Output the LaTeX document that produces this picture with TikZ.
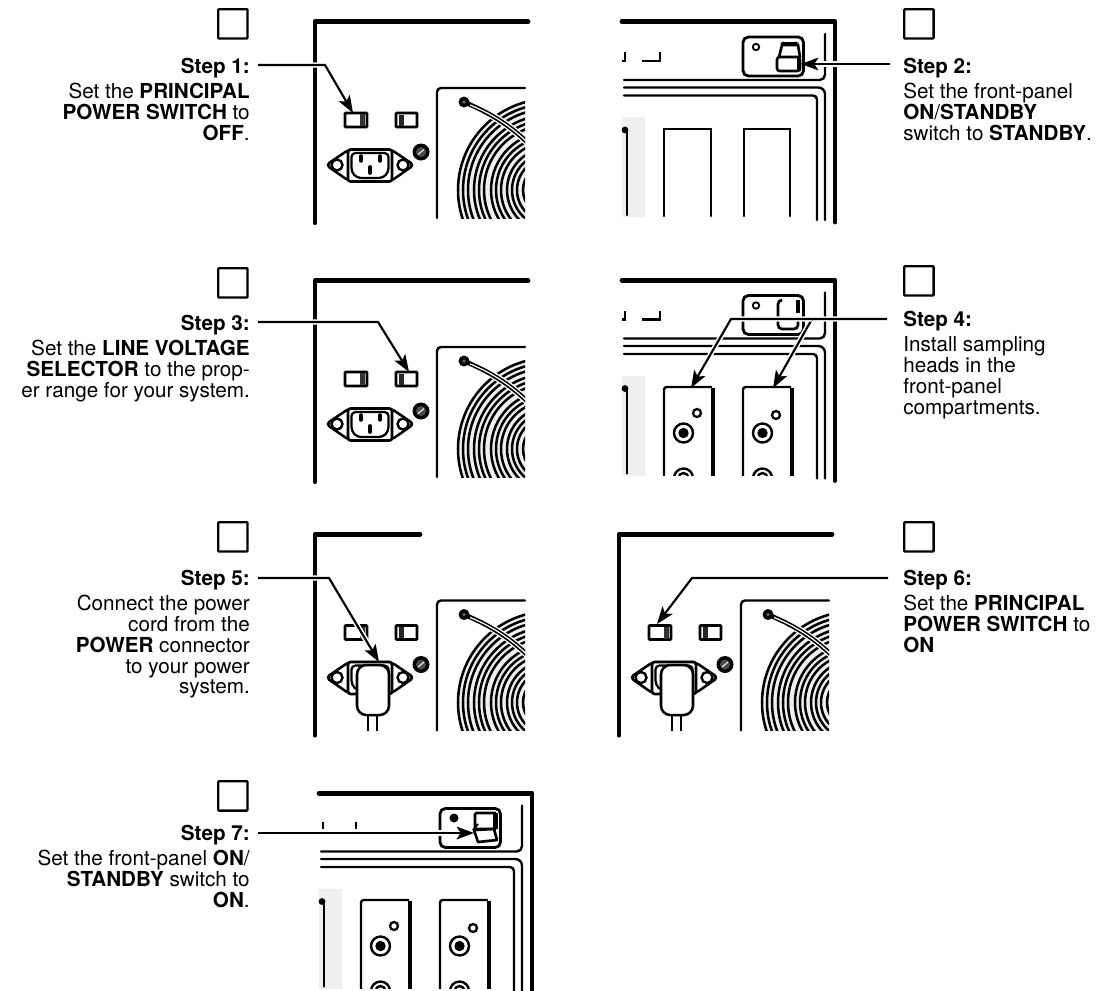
\documentclass[tikz,border=0pt]{standalone}
\usepackage{fontspec}
\setmainfont{TeX Gyre Heros}
\usetikzlibrary{arrows.meta}
\definecolor{fangrey}{HTML}{EFEFEF}
\tikzset{
  x=0.75pt,y=-0.75pt,
  thickframe/.style={line width=3.6pt,line cap=round,line join=round},
  thinline/.style={line width=1.8pt,line cap=round},
  checkbox/.style={draw,line width=1.8pt,rounded corners=0.6pt,minimum width=22pt,minimum height=22pt,inner sep=0pt,anchor=north west},
  stepR/.style={anchor=north east,align=right,inner sep=0pt,font=\fontsize{15.5}{15.6}\selectfont},
  stepL/.style={anchor=north west,align=left,inner sep=0pt,font=\fontsize{15.5}{15.6}\selectfont},
  leader/.style={line width=1.6pt,line join=miter,preaction={draw=white,line width=4pt,-,shorten >=12pt},-{Stealth[length=13pt,width=9.5pt,inset=3pt]}},
}
\newcommand{\RearSwitchL}{%
  \draw[line width=2pt,rounded corners=.5pt] (345,113) rectangle (367,127);
  \fill[black!80] (360,114) rectangle (364.5,126);
}
\newcommand{\RearPanel}[3]{%
\begin{scope}[shift={(#1,#2)}]
  \draw[thickframe] (#3,21.7) -- (315,21.7) -- (315,222.7);
  \RearSwitchL
  \draw[line width=2pt,rounded corners=.5pt] (396,113) rectangle (417,127);
  \fill[black!85] (399,114.5) rectangle (403.5,125.5);
  % power inlet
  \draw[line width=1.9pt,line join=round,fill=white,rounded corners=3pt] (326,165) -- (349,149.5) -- (391,149.5) -- (414,165) -- (391,181) -- (349,181) -- cycle;
  \draw[line width=1.8pt] (337,165) circle[radius=5.5];
  \draw[line width=1.8pt] (403,165) circle[radius=5.5];
  \draw[line width=2pt,rounded corners=2pt,fill=white] (348,149.5) rectangle (392,181.5);
  \draw[line width=1.7pt,rounded corners=3pt] (351.5,153) -- (388.5,153) -- (388.5,172) -- (383,178) -- (357,178) -- (351.5,172) -- cycle;
  \draw[line width=2.6pt,line cap=round] (361,156) -- (361,161);
  \draw[line width=2.6pt,line cap=round] (380,156) -- (380,161);
  \draw[line width=2.8pt,line cap=round] (370,167) -- (370,173);
  % screw
  \fill (421,152) circle[radius=8.5];
  \fill[black!70] (421,152) circle[radius=5];
  \draw[white,line width=.7pt] (418,154.5) -- (424,149.5);
  % fan
  \draw[line width=1.8pt,line cap=round,rounded corners=3pt] (437,218) -- (437,88) -- (525,88);
  \begin{scope}
    \clip (439,90) rectangle (525,218);
    \fill[fangrey] (549,190) circle[radius=91];
    \foreach \r in {91,86,81,75,70,65,58,53,48,42,37,32,26}
      \draw[line width=1.9pt] (549,190) circle[radius=\r];
    \draw[white,line width=5.4pt] (470,105) .. controls (490,113) and (510,125) .. (530,145);
    \draw[line width=3.4pt] (464,102) .. controls (490,113) and (510,125) .. (530,145);
    \draw[white,line width=.9pt] (470,105) .. controls (490,113) and (510,125) .. (530,145);
  \end{scope}
  \fill (464,102) circle[radius=5.5];
  \fill[black!60] (464,102) circle[radius=1.8];
\end{scope}}
\newcommand{\FrontPanel}[2]{%
\begin{scope}[shift={(#1,#2)}]
  \draw[thickframe] (622,21.7) -- (835,21.7) -- (835,222);
  \draw[line width=2.1pt,rounded corners=4pt] (743,37) rectangle (803.5,76);
  \draw[thinline,rounded corners=4pt] (624,80) -- (825,80) -- (825,34);
  \draw[thinline,rounded corners=5pt] (624,87.5) -- (825,87.5) -- (825,220);
  \draw[thinline,rounded corners=3pt] (624,95.5) -- (817,95.5) -- (817,220);
  \fill[fangrey] (622,117) rectangle (645,217);
  \draw[thinline] (627,130) -- (627,215);
  \fill (625,130) circle[radius=3.4];
\end{scope}}
\newcommand{\Ticks}[2]{%
\begin{scope}[shift={(#1,#2)}]
  \draw[line width=1.8pt] (622,61) -- (625,61) -- (625,52);
  \draw[line width=1.8pt] (642,61) -- (660,61) -- (660,52);
  \draw[line width=1.4pt] (756,47) circle[radius=3.2];
\end{scope}}
\newcommand{\Module}[5]{%
\begin{scope}[shift={(#1,#2)}]
  \begin{scope}
    \clip (#3-4,120) rectangle (#3+60,216.5);
    \draw[line width=1.8pt,rounded corners=2pt] (#3,220) -- (#3,128.5) -- (#3+48,128.5);
    \draw[line width=3.6pt] (#3+49,129) -- (#3+49,220);
    \draw[line width=1.7pt] (#4,#5) circle[radius=4];
    \draw[line width=1.8pt] (#3+19.5,174.5) circle[radius=9.5];
    \fill (#3+19.5,174.5) circle[radius=5.2];
    \draw[line width=1.8pt] (#3+19.5,219.5) circle[radius=9.5];
    \draw[line width=1.8pt] (#3+19.5,219.5) circle[radius=5];
  \end{scope}
\end{scope}}
\begin{document}
\begin{tikzpicture}
\useasboundingbox (0,0) rectangle (1112,990);
% ---------- check boxes
\node[checkbox] (c1) at (217,8) {};
\node[checkbox] (c2) at (903,8) {};
\node[checkbox] (c3) at (217,267) {};
\node[checkbox] (c4) at (903,265) {};
\node[checkbox] (c5) at (217,521) {};
\node[checkbox] (c6) at (903,521) {};
\node[checkbox] (c7) at (217,780) {};
% ---------- panels
\RearPanel{0}{0}{528}
\RearPanel{0}{259}{528}
\RearPanel{0}{512.5}{420}
\RearPanel{304}{512.5}{528}
\FrontPanel{0}{0}
\Ticks{0}{0}
\draw[line width=1.9pt,line cap=round] (664,216) -- (664,129) -- (711,129) -- (711,216);
\draw[line width=1.9pt,line cap=round] (744,216) -- (744,129) -- (790,129) -- (790,216);
\FrontPanel{0}{258.5}
\Ticks{0}{258.5}
\Module{0}{258.5}{664}{697}{154.5}
\Module{0}{258.5}{743}{776}{156.5}
\FrontPanel{-303}{771.5}
\draw[line width=1.8pt] (323,822) -- (323,829);
\draw[line width=1.8pt] (356,822) -- (356,829);
\Module{-303}{771.5}{664}{697}{154.5}
\Module{-303}{771.5}{743}{776}{156.5}
% step 2 switch
\draw[line width=2pt,rounded corners=2pt] (777,57) rectangle (800,71);
\draw[line width=2pt] (779,57) -- (782,45) -- (798,45) -- (800,57);
\draw[line width=1.5pt,<->,>={Stealth[length=3pt]}] (780,43) -- (799,43);
\fill (796.5,57) rectangle (801,71);
% step 4 switch
\draw[line width=2pt,rounded corners=3pt] (782,300) -- (778,300) -- (778,329) -- (798,329) -- (798,320);
\draw[line width=3.6pt] (798,300) -- (798,313);
% step 7 switch
\fill (454,818) circle[radius=4.5];
\draw[line width=2pt,rounded corners=1pt,fill=white] (475,813) rectangle (496,829);
\fill (493,813) rectangle (497.5,829);
\draw[line width=2pt,line join=round,fill=white] (474,830) -- (478,842) -- (497,840) -- (494,829) -- cycle;
\draw[line width=1.5pt] (473,830) -- (478,824);
% plugs
\foreach \dx in {0,304}{
  \begin{scope}[shift={(\dx,0)}]
    \draw[line width=1.9pt,rounded corners=7pt,fill=white] (357,665) rectangle (389,715);
    \draw[line width=1.5pt] (368,715) -- (368,731);
    \draw[line width=1.5pt] (377,715) -- (377,731);
  \end{scope}
}
% ---------- texts
\node[stepR] (t1) at (250,58) {\textbf{Step 1:}\\[3.2pt]Set the \textbf{PRINCIPAL}\\\textbf{POWER SWITCH} to\\\textbf{OFF}.};
\node[stepL] (t2) at (903,58) {\textbf{Step 2:}\\[3.2pt]Set the front-panel\\\textbf{ON}/\textbf{STANDBY}\\switch to \textbf{STANDBY}.};
\node[stepR] (t3) at (250,315) {\textbf{Step 3:}\\[3.2pt]Set the \textbf{LINE VOLTAGE}\\\textbf{SELECTOR} to the prop-\\er range for your system.};
\node[stepL] (t4) at (903,311) {\textbf{Step 4:}\\[3.2pt]Install sampling\\heads in the\\front-panel\\compartments.};
\node[stepR] (t5) at (250,570) {\textbf{Step 5:}\\[3.2pt]Connect the power\\cord from the\\\textbf{POWER} connector\\to your power\\system.};
\node[stepL] (t6) at (903,570) {\textbf{Step 6:}\\[3.2pt]Set the \textbf{PRINCIPAL}\\\textbf{POWER SWITCH} to\\\textbf{ON}};
\node[stepR] (t7) at (250,825) {\textbf{Step 7:}\\[3.2pt]Set the front-panel \textbf{ON}/\\\textbf{STANDBY} switch to\\\textbf{ON}.};
% ---------- leaders
\coordinate (a1s) at (258,65); \coordinate (a1b) at (325,65); \coordinate (a1e) at (353,113);
\draw[leader] (a1s) -- (a1b) -- (a1e);
\coordinate (a2s) at (890,64); \coordinate (a2e) at (801,64);
\draw[leader] (a2s) -- (a2e);
\coordinate (a3s) at (258,322); \coordinate (a3b) at (378,322); \coordinate (a3e) at (409,372);
\draw[leader] (a3s) -- (a3b) -- (a3e);
\coordinate (a4s) at (887,319); \coordinate (a4b) at (812,319); \coordinate (a4e) at (773,388);
\coordinate (a4c) at (731,319); \coordinate (a4f) at (691,388);
\draw[leader] (a4s) -- (a4b) -- (a4e);
\draw[leader] (a4b) -- (a4c) -- (a4f);
\coordinate (a5s) at (258,578); \coordinate (a5b) at (329,578); \coordinate (a5e) at (379,662);
\draw[leader] (a5s) -- (a5b) -- (a5e);
\coordinate (a6s) at (888,578); \coordinate (a6b) at (692,578); \coordinate (a6e) at (657,624);
\draw[leader] (a6s) -- (a6b) -- (a6e);
\coordinate (a7s) at (258,833); \coordinate (a7e) at (474,833);
\draw[leader] (a7s) -- (a7e);
\end{tikzpicture}
\end{document}
